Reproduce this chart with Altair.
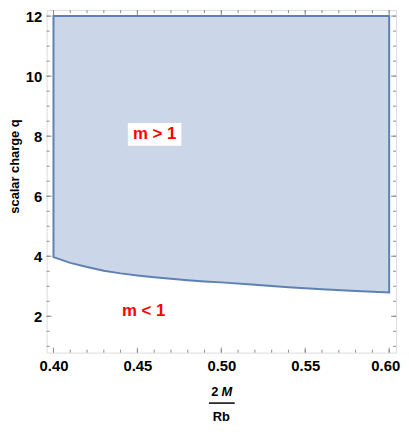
import altair as alt
import pandas as pd

# boundary curve m = 1
xs = [0.40, 0.41, 0.42, 0.43, 0.44, 0.45, 0.46, 0.47, 0.48, 0.49, 0.50,
      0.52, 0.54, 0.56, 0.58, 0.60]
qs = [3.97, 3.78, 3.64, 3.52, 3.43, 3.36, 3.30, 3.25, 3.20, 3.16, 3.13,
      3.05, 2.97, 2.90, 2.84, 2.79]
q_top = 12.0

x_major = [0.40, 0.45, 0.50, 0.55, 0.60]
x_minor = [round(0.40 + 0.01 * i, 2) for i in range(21)]
y_major = [2, 4, 6, 8, 10, 12]
y_minor = [1.0 + 0.5 * i for i in range(23)]

labels = ["m > 1", "m < 1"]
label_x = [0.4603, 0.4537]
label_y = [8.06, 2.17]

W, H = 353, 346
XDOM = [0.3959, 0.6041]
YDOM = [0.79, 12.2]
FONT = "Liberation Sans"
FRAME = "#8c8c8c"

xsc = alt.Scale(domain=XDOM, nice=False, zero=False)
ysc = alt.Scale(domain=YDOM, nice=False, zero=False)

region = pd.DataFrame({"x": xs, "q": qs, "top": [q_top] * len(xs)})

area = alt.Chart(region).mark_area(
    fill="#cbd6e8", stroke="#5e81b5", strokeWidth=2, fillOpacity=1
).encode(
    x=alt.X("x:Q", scale=xsc, axis=alt.Axis(
        values=x_major, format=".2f", title=None, ticks=False, domain=False,
        grid=False, labelFont=FONT, labelFontSize=15, labelFontWeight="bold",
        labelColor="black", labelPadding=6,
        labelOffset={"condition": {"test": "datum.value > 0.59", "value": -4},
                     "value": 0})),
    y=alt.Y("q:Q", scale=ysc, axis=alt.Axis(
        values=y_major, format="d", title=None, ticks=False, domain=False,
        grid=False, labelFont=FONT, labelFontSize=15, labelFontWeight="bold",
        labelColor="black", labelPadding=5)),
    y2="top:Q",
)

def xticks(vals, length):
    d = pd.DataFrame({"x": vals})
    b = alt.Chart(d).mark_rule(color=FRAME, strokeWidth=1).encode(
        x=alt.X("x:Q", scale=xsc), y=alt.value(H), y2=alt.value(H - length))
    t = alt.Chart(d).mark_rule(color=FRAME, strokeWidth=1).encode(
        x=alt.X("x:Q", scale=xsc), y=alt.value(0), y2=alt.value(length))
    return [b, t]

def yticks(vals, length):
    d = pd.DataFrame({"y": vals})
    l = alt.Chart(d).mark_rule(color=FRAME, strokeWidth=1).encode(
        y=alt.Y("y:Q", scale=ysc), x=alt.value(0), x2=alt.value(length))
    r = alt.Chart(d).mark_rule(color=FRAME, strokeWidth=1).encode(
        y=alt.Y("y:Q", scale=ysc), x=alt.value(W), x2=alt.value(W - length))
    return [l, r]

ticks = xticks(x_minor, 3) + xticks(x_major, 5) + yticks(y_minor, 3) + yticks(y_major, 5)

box = alt.Chart(pd.DataFrame({"x": [0.4443], "x2": [0.4762],
                              "y": [7.68], "y2": [8.44]})).mark_rect(
    color="white").encode(
    x=alt.X("x:Q", scale=xsc), x2="x2:Q",
    y=alt.Y("y:Q", scale=ysc), y2="y2:Q")

lab = alt.Chart(pd.DataFrame({"t": labels, "x": label_x, "y": label_y})).mark_text(
    color="#ff0000", font=FONT, fontSize=17, fontWeight="bold",
    align="center", baseline="middle").encode(
    x=alt.X("x:Q", scale=xsc), y=alt.Y("y:Q", scale=ysc), text="t:N")

one = pd.DataFrame({"a": [0]})
ytitle = alt.Chart(one).mark_text(
    text="scalar charge q", angle=270, font=FONT, fontSize=13,
    fontWeight="bold", color="black", align="center", baseline="middle"
).encode(x=alt.value(-32), y=alt.value(158))

num2 = alt.Chart(one).mark_text(
    text="2", font=FONT, fontSize=13, fontWeight="bold", color="black",
    align="center", baseline="middle").encode(x=alt.value(170), y=alt.value(386))
numM = alt.Chart(one).mark_text(
    text="M", font=FONT, fontSize=13, fontWeight="bold", fontStyle="italic",
    color="black", align="center", baseline="middle").encode(
    x=alt.value(182), y=alt.value(386))
bar = alt.Chart(one).mark_rule(color="black", strokeWidth=1.5).encode(
    x=alt.value(164), x2=alt.value(190), y=alt.value(397))
den = alt.Chart(one).mark_text(
    text="Rb", font=FONT, fontSize=13, fontWeight="bold", color="black",
    align="center", baseline="middle").encode(x=alt.value(176.5), y=alt.value(411))

chart = alt.layer(area, *ticks, box, lab, ytitle, num2, numM, bar, den).properties(
    width=W, height=H,
    autosize=alt.AutoSizeParams(type="none"),
    padding={"left": 39, "top": 0, "right": 5, "bottom": 70},
).configure_view(stroke=FRAME, strokeWidth=1).configure(background="white")

chart.save("out.html", embed_options={"renderer": "svg", "actions": False})
